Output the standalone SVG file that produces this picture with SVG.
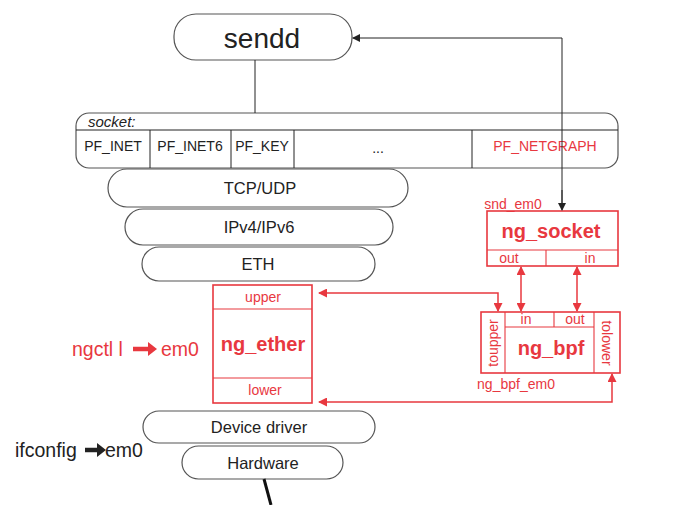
<svg xmlns="http://www.w3.org/2000/svg" width="683" height="505" viewBox="0 0 683 505">
<style>
text{font-family:"Liberation Sans",Arial,sans-serif;text-anchor:middle;dominant-baseline:central}
.blk{fill:#fff;stroke:#555;stroke-width:1.2}
.red{fill:#fff;stroke:#e8383f;stroke-width:1.6}
.rl{stroke:#e8383f;stroke-width:1.1;fill:none}
.rt{fill:#e8383f}
.bt{fill:#222}
.con{stroke:#222;stroke-width:1;fill:none}
.rcon{stroke:#e8383f;stroke-width:1.5;fill:none}
.pf{font-size:14px}
.lay{font-size:16.5px}
.sm{font-size:14px}
.nm{font-size:20px;font-weight:bold}
.cmd{font-size:19.5px}
</style>
<defs>
<marker id="ab" markerWidth="8" markerHeight="8" refX="7" refY="4" orient="auto" markerUnits="userSpaceOnUse"><path d="M0,0 L8,4 L0,8 z" fill="#222"/></marker>
<marker id="ar" markerWidth="9" markerHeight="9" refX="8" refY="4.5" orient="auto-start-reverse" markerUnits="userSpaceOnUse"><path d="M0,0 L9,4.5 L0,9 z" fill="#e8383f"/></marker>
</defs>

<g id="sendd">
<rect class="blk" x="174" y="14" width="178" height="46" rx="22"/>
<text class="bt" x="262" y="38" font-size="28">sendd</text>
</g>

<g id="socket">
<rect class="blk" x="76" y="113" width="542" height="55" rx="13"/>
<line class="con" x1="76" y1="130" x2="618" y2="130" stroke="#555"/>
<line class="con" x1="150" y1="130" x2="150" y2="168"/>
<line class="con" x1="231" y1="130" x2="231" y2="168"/>
<line class="con" x1="294" y1="130" x2="294" y2="168"/>
<line class="con" x1="472" y1="130" x2="472" y2="168"/>
<text class="bt" x="88" y="121" font-size="15" font-style="italic" style="text-anchor:start">socket:</text>
<text class="bt pf" x="113" y="146">PF_INET</text>
<text class="bt pf" x="190" y="146">PF_INET6</text>
<text class="bt pf" x="262" y="146">PF_KEY</text>
<text class="bt pf" x="378" y="148">...</text>
<text class="rt pf" x="545" y="146">PF_NETGRAPH</text>
</g>

<g id="tcpudp">
<rect class="blk" x="108" y="169" width="300" height="38" rx="19"/>
<text class="bt lay" x="260" y="188">TCP/UDP</text>
</g>
<g id="ipv4ipv6">
<rect class="blk" x="125" y="209" width="268" height="36" rx="18"/>
<text class="bt lay" x="259" y="227">IPv4/IPv6</text>
</g>
<g id="eth">
<rect class="blk" x="142" y="247" width="233" height="34" rx="17"/>
<text class="bt lay" x="258" y="264">ETH</text>
</g>

<g id="ng_socket">
<rect class="red" x="487" y="211" width="131" height="55"/>
<line class="rl" x1="487" y1="250" x2="618" y2="250"/>
<line class="rl" x1="546" y1="250" x2="546" y2="266"/>
<text class="rt nm" x="551" y="231">ng_socket</text>
<text class="rt sm" x="509" y="258">out</text>
<text class="rt sm" x="590" y="258">in</text>
<text class="rt sm" x="513" y="204">snd_em0</text>
</g>

<g id="ng_ether">
<rect class="red" x="213" y="285" width="99" height="118"/>
<line class="rl" x1="213" y1="309" x2="312" y2="309"/>
<line class="rl" x1="213" y1="378" x2="312" y2="378"/>
<text class="rt sm" x="263" y="297">upper</text>
<text class="rt nm" x="263" y="344">ng_ether</text>
<text class="rt sm" x="265" y="390">lower</text>
</g>

<g id="ng_bpf">
<rect class="red" x="481" y="312" width="139" height="61"/>
<line class="rl" x1="505" y1="312" x2="505" y2="373"/>
<line class="rl" x1="594" y1="312" x2="594" y2="373"/>
<line class="rl" x1="505" y1="327" x2="594" y2="327"/>
<line class="rl" x1="554" y1="312" x2="554" y2="327"/>
<text class="rt sm" x="526" y="319">in</text>
<text class="rt sm" x="575" y="319">out</text>
<text class="rt nm" x="551" y="348">ng_bpf</text>
<text class="rt sm" transform="translate(493,343) rotate(-90)">toupper</text>
<text class="rt sm" transform="translate(607,343) rotate(90)">tolower</text>
<text class="rt sm" x="516" y="384">ng_bpf_em0</text>
</g>

<g id="device_driver">
<rect class="blk" x="143" y="411" width="232" height="32" rx="16"/>
<text class="bt lay" x="259" y="427">Device driver</text>
</g>
<g id="hardware">
<rect class="blk" x="182" y="446" width="161" height="33" rx="16.5"/>
<text class="bt lay" x="263" y="463">Hardware</text>
</g>

<g id="ngctl_label">
<text class="rt cmd" x="72" y="349" style="text-anchor:start">ngctl l</text>
<line x1="133" y1="349" x2="150" y2="349" stroke="#e8383f" stroke-width="4.5"/>
<path d="M148,342 L157,349 L148,356 z" fill="#e8383f"/>
<text class="rt cmd" x="161" y="349" style="text-anchor:start">em0</text>
</g>

<g id="ifconfig_label">
<text class="bt cmd" x="15" y="450" style="text-anchor:start" font-size="20">ifconfig</text>
<line x1="85" y1="450" x2="99" y2="450" stroke="#222" stroke-width="4.5"/>
<path d="M97,443 L106,450 L97,457 z" fill="#222"/>
<text class="bt cmd" x="105" y="450" style="text-anchor:start" font-size="21">em0</text>
</g>

<g id="connectors">
<line class="con" x1="255" y1="60" x2="255" y2="113"/>
<path class="con" d="M562,205 L562,38 L353,38" marker-end="url(#ab)"/>
<line class="con" x1="562" y1="190" x2="562" y2="210" marker-end="url(#ab)"/>
<line class="rcon" x1="521" y1="267" x2="521" y2="311" marker-start="url(#ar)" marker-end="url(#ar)"/>
<line class="rcon" x1="577" y1="267" x2="577" y2="311" marker-start="url(#ar)" marker-end="url(#ar)"/>
<path class="rcon" d="M319,293 L498,293 L498,311" marker-start="url(#ar)" marker-end="url(#ar)"/>
<path class="rcon" d="M319,402 L612,402 L612,374" marker-start="url(#ar)" marker-end="url(#ar)"/>
<line x1="264" y1="479" x2="271" y2="505" stroke="#111" stroke-width="3"/>
</g>
</svg>
